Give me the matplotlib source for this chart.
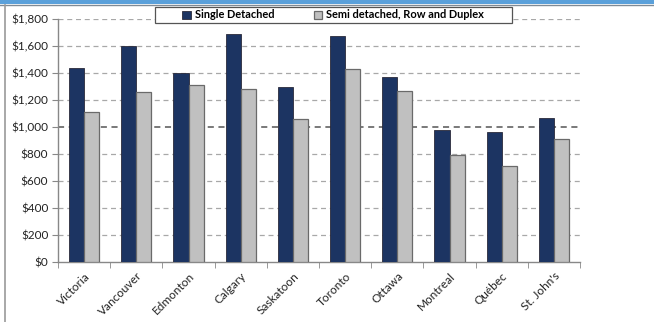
import matplotlib
matplotlib.use("Agg")
import matplotlib.pyplot as plt
from matplotlib.patches import Rectangle
from matplotlib.lines import Line2D
import numpy as np

cities = ["Victoria", "Vancouver", "Edmonton", "Calgary", "Saskatoon",
          "Toronto", "Ottawa", "Montreal", "Québec", "St. John's"]
single_detached = [1440, 1600, 1400, 1690, 1300, 1675, 1370, 975, 965, 1070]
semi_row_duplex = [1110, 1260, 1310, 1280, 1060, 1430, 1265, 795, 710, 910]
yticks = [0, 200, 400, 600, 800, 1000, 1200, 1400, 1600, 1800]
series_names = ["Single Detached", "Semi detached, Row and Duplex"]

plt.rcParams['font.family'] = ['Lato', 'DejaVu Sans']

fig = plt.figure(figsize=(6.54, 3.22), dpi=100)
fig.patch.set_facecolor("white")

# frame decorations: blue top strip and grey left line
fig.add_artist(Rectangle((0, 1 - 4/322), 1, 4/322, transform=fig.transFigure,
                         facecolor="#5AA0DA", edgecolor="none"))
fig.add_artist(Line2D([0, 1], [1 - 4.5/322, 1 - 4.5/322], transform=fig.transFigure,
                      color="#7F8A95", lw=1.0))
fig.add_artist(Line2D([5.5/654, 5.5/654], [0, 1 - 4.5/322], transform=fig.transFigure,
                      color="#9A9A9A", lw=1.2))

ax = fig.add_axes([58/654, 1 - 262/322, 522/654, 243/322])
x = np.arange(len(cities))
w = 0.29
navy = "#1C3462"
grey = "#C0C0C0"
ax.bar(x - w/2, single_detached, width=w, color=navy, edgecolor="#2A2A3A",
       linewidth=0.6, zorder=3, label=series_names[0])
ax.bar(x + w/2, semi_row_duplex, width=w, color=grey, edgecolor="#6A6A6A",
       linewidth=0.9, zorder=3, label=series_names[1])

ax.set_xlim(-0.5, len(cities) - 0.5)
ax.set_ylim(0, 1800)
ax.set_yticks(yticks)
ax.set_yticklabels([f"${v:,}" for v in yticks], fontsize=8.5, color="#222222")
for v in yticks[1:]:
    if v == 1000:
        ax.axhline(v, color="#555555", lw=1.1, ls=(0, (4, 3)), zorder=1)
    else:
        ax.axhline(v, color="#A8A8A8", lw=0.9, ls=(0, (4, 3)), zorder=1)

ax.set_xticks(x)
ax.set_xticklabels(cities, rotation=45, ha="right", rotation_mode="anchor",
                   fontsize=8.5, color="#222222")
ax.tick_params(axis="x", which="major", length=0, pad=6)
ax.set_xticks(np.arange(-0.5, len(cities), 1.0), minor=True)
ax.tick_params(axis="x", which="minor", length=4, color="#888888", direction="out")
ax.tick_params(axis="y", length=4, color="#888888", direction="out", pad=3)

for s in ["top", "right"]:
    ax.spines[s].set_visible(False)
for s in ["left", "bottom"]:
    ax.spines[s].set_color("#888888")
    ax.spines[s].set_linewidth(1.0)

# legend frame drawn manually (wide horizontal padding like the original)
fig.add_artist(Rectangle((155/654, 1 - 23/322), 357/654, 16/322, transform=fig.transFigure,
                         facecolor="white", edgecolor="#555555", lw=0.9, zorder=5))
leg = fig.legend(loc="center", bbox_to_anchor=(333/654, 1 - 15/322), ncol=2,
                 frameon=False, prop={"weight": "bold", "size": 7.9},
                 handlelength=0.75, handleheight=0.75, handletextpad=0.35,
                 columnspacing=3.6, borderpad=0.0, borderaxespad=0)
leg.set_zorder(6)

fig.savefig("out.png", dpi=100, facecolor="white")
